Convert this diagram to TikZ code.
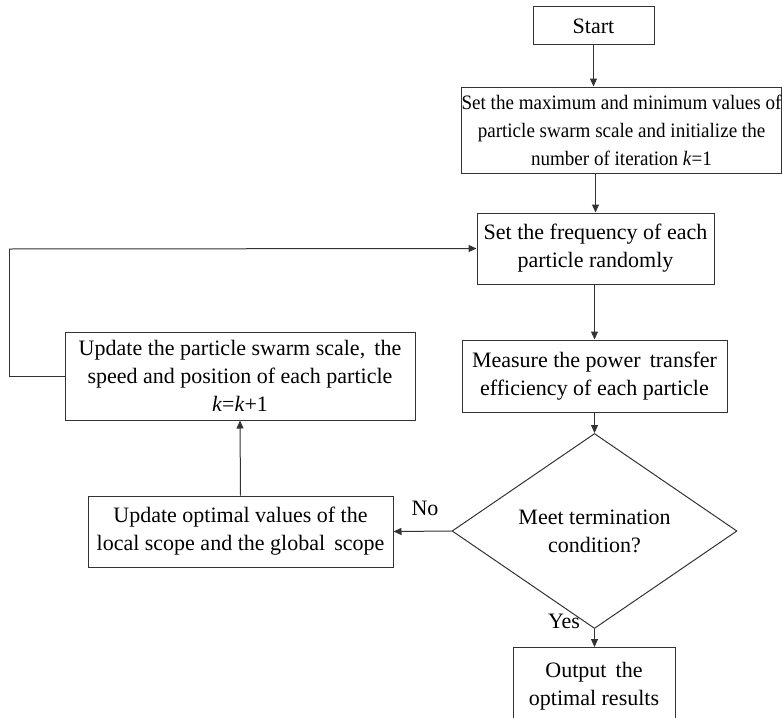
\documentclass[tikz,border=0pt]{standalone}
\usepackage{fontspec}
\setmainfont{Liberation Serif}
\newfontfamily\narrowserif[FakeStretch=0.93]{Liberation Serif}
\usetikzlibrary{shapes.geometric,arrows.meta}
\definecolor{ln}{HTML}{333333}
\tikzset{
  box/.style={draw=ln,line width=1pt,align=center,inner sep=0pt,font=\fontsize{22}{28}\selectfont,text=black},
  dia/.style={draw=ln,line width=1pt,align=center,diamond,inner sep=0pt,font=\fontsize{22}{28}\selectfont,minimum width=285pt,minimum height=141pt},
  lab/.style={font=\fontsize{22}{28}\selectfont},
  arr/.style={draw=ln,line width=1pt,-{Triangle[length=8pt,width=7pt]}},
  ln/.style={draw=ln,line width=1pt}
}
\begin{document}
\begin{tikzpicture}[x=1pt,y=-1pt]
\useasboundingbox (0,0) rectangle (783,717);
\begin{scope}
\clip (0,0) rectangle (783,717);
\node[box,minimum width=121pt,minimum height=38pt] (start) at (593.5,26) {Start};
\node[box,minimum width=319pt,minimum height=86pt,font=\narrowserif\fontsize{20.5}{28}\selectfont] (setmax) at (621.5,130) {Set the maximum and minimum values of\\particle swarm scale and initialize the\\number of iteration \textit{k}=1};
\node[box,minimum width=237pt,minimum height=71pt] (freq) at (595.5,248.5) {Set the frequency of each\\particle randomly};
\node[box,minimum width=265pt,minimum height=72pt] (meas) at (594.5,376) {Measure the power \,transfer\\efficiency of each particle};
\node[dia] (cond) at (594.5,531) {Meet termination\\condition?};
\node[box,minimum width=305pt,minimum height=71pt] (updopt) at (240.5,531.5) {Update optimal values of the\\local scope and the global \,scope};
\node[box,minimum width=350pt,minimum height=88pt] (updpart) at (240,376) {Update the particle swarm scale, \,the\\speed and position of each particle\\\textit{k}=\textit{k}+1};
\node[box,minimum width=162pt,minimum height=78pt,anchor=north] (out) at (594,647) {Output \,the\\optimal results};
\end{scope}
\coordinate (c1) at (9,376);
\coordinate (c2) at (9,249);
\draw[arr] (start.south) -- (start.south |- setmax.north);
\draw[arr] (freq.north |- setmax.south) -- (freq.north);
\draw[arr] (freq.south -| meas.north) -- (meas.north);
\draw[arr] (meas.south) -- (cond.north);
\draw[arr] (cond.south) -- (cond.south |- out.north);
\draw[arr] (cond.west) -- (updopt.east);
\draw[arr] (updopt.north) -- (updpart.south);
\draw[ln] (updpart.west) -- (c1) -- (c2);
\draw[arr] (c2) -- (freq.west);
\node[lab] (no) at (425,508) {No};
\node[lab] (yes) at (564,621) {Yes};
\end{tikzpicture}
\end{document}
